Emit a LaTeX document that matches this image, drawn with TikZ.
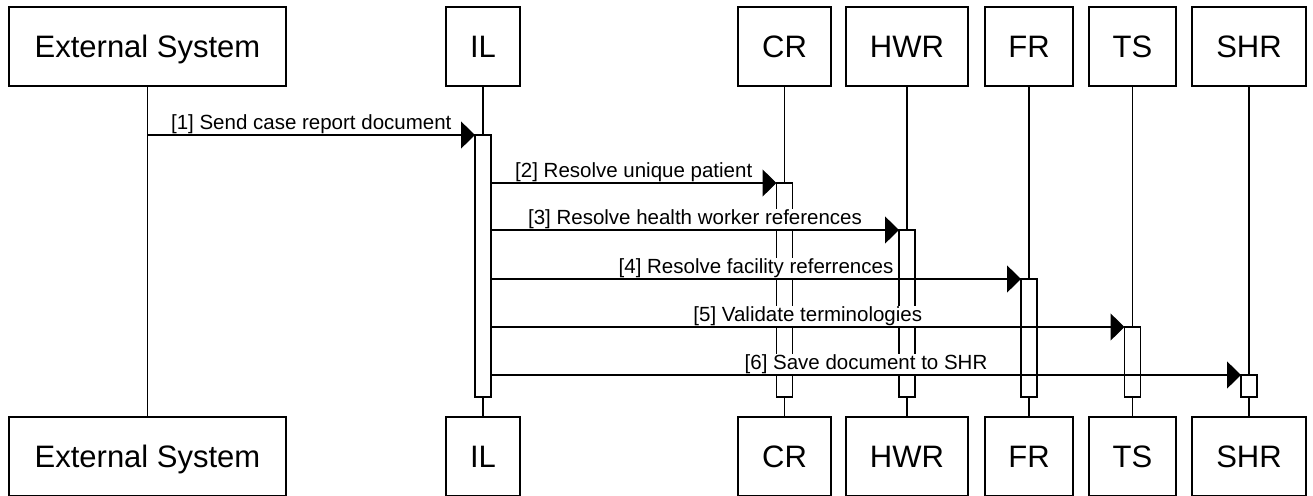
\documentclass[tikz,border=0pt]{standalone}
\usepackage{fontspec}
\setmainfont{Liberation Sans}
\usetikzlibrary{positioning,arrows.meta}

\tikzset{
  actor/.style={draw, line width=1.3pt, outer sep=0pt, inner sep=0pt,
    minimum height=79pt, text height=22.2pt, text depth=0pt,
    font=\fontsize{31}{37}\selectfont},
  activ/.style={draw, fill=white, line width=1.3pt, outer sep=0pt,
    inner sep=0pt, minimum width=16pt},
  life/.style={line width=1.3pt},
  msg/.style={line width=1.3pt, -{Triangle[length=14pt,width=27pt]}},
  msglabel/.style={fill=white, inner sep=0.5pt, anchor=base, yshift=6pt,
    font=\fontsize{20.5}{24}\selectfont}
}

\begin{document}
\begin{tikzpicture}[x=1pt,y=-1pt]
  \path[fill=white, use as bounding box] (0,0) rectangle (1313,495);

  % participants, top row
  \node[actor, minimum width=277pt] (ext) at (147.5,46.5) {External System};
  \node[actor, minimum width=74pt]  (il)  [right=160pt of ext] {IL};
  \node[actor, minimum width=93pt]  (cr)  [right=218pt of il]  {CR};
  \node[actor, minimum width=122pt] (hwr) [right=15pt of cr]   {HWR};
  \node[actor, minimum width=88pt]  (fr)  [right=17pt of hwr]  {FR};
  \node[actor, minimum width=87pt]  (ts)  [right=16pt of fr]   {TS};
  \node[actor, minimum width=114pt] (shr) [right=16pt of ts]   {SHR};

  % participants, bottom row
  \node[actor, minimum width=277pt] (ext_b) [below=331pt of ext] {External System};
  \node[actor, minimum width=74pt]  (il_b)  [below=331pt of il]  {IL};
  \node[actor, minimum width=93pt]  (cr_b)  [below=331pt of cr]  {CR};
  \node[actor, minimum width=122pt] (hwr_b) [below=331pt of hwr] {HWR};
  \node[actor, minimum width=88pt]  (fr_b)  [below=331pt of fr]  {FR};
  \node[actor, minimum width=87pt]  (ts_b)  [below=331pt of ts]  {TS};
  \node[actor, minimum width=114pt] (shr_b) [below=331pt of shr] {SHR};

  % lifelines
  \draw[life] (ext) -- (ext_b);
  \draw[life] (il) -- (il_b);
  \draw[life] (cr) -- (cr_b);
  \draw[life] (hwr) -- (hwr_b);
  \draw[life] (fr) -- (fr_b);
  \draw[life] (ts) -- (ts_b);
  \draw[life] (shr) -- (shr_b);

  % activations
  \node[activ, minimum height=262pt] (a_il)  at (il |- 0,266)    {};
  \node[activ, minimum height=214pt] (a_cr)  at (cr |- 0,290)    {};
  \node[activ, minimum height=167pt] (a_hwr) at (hwr |- 0,313.5) {};
  \node[activ, minimum height=118pt] (a_fr)  at (fr |- 0,338)    {};
  \node[activ, minimum height=70pt]  (a_ts)  at (ts |- 0,362)    {};
  \node[activ, minimum height=22pt]  (a_shr) at (shr |- 0,386)   {};

  % messages
  \draw[msg] (ext |- a_il.north) -- node[msglabel] {[1] Send case report document} (a_il.north west);
  \draw[msg] (a_il.east |- a_cr.north) -- node[msglabel] {[2] Resolve unique patient} (a_cr.north west);
  \draw[msg] (a_il.east |- a_hwr.north) -- node[msglabel] {[3] Resolve health worker references} (a_hwr.north west);
  \draw[msg] (a_il.east |- a_fr.north) -- node[msglabel] {[4] Resolve facility referrences} (a_fr.north west);
  \draw[msg] (a_il.east |- a_ts.north) -- node[msglabel] {[5] Validate terminologies} (a_ts.north west);
  \draw[msg] (a_il.east |- a_shr.north) -- node[msglabel] {[6] Save document to SHR} (a_shr.north west);
\end{tikzpicture}
\end{document}
